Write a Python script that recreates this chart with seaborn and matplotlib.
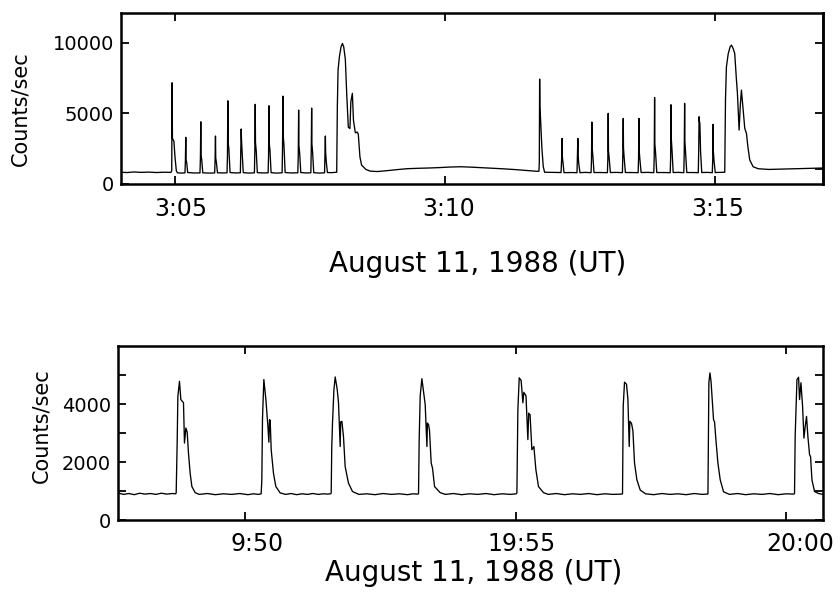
import matplotlib
matplotlib.use("Agg")
import matplotlib.pyplot as plt
from matplotlib.transforms import ScaledTranslation
import pandas as pd
import seaborn as sns

# ---------------- data ----------------
# Top panel: minutes after 03:00 UT, counts/sec
top_time = [
    4.00, 4.12, 4.25, 4.38, 4.52, 4.66, 4.80, 4.93,
    4.945, 4.952, 4.958, 4.985, 5.005, 5.030, 5.050, 5.120, 5.180,
    5.190, 5.198, 5.205, 5.210, 5.222, 5.240, 5.35,
    5.468, 5.476, 5.483, 5.488, 5.500, 5.520, 5.63,
    5.740, 5.748, 5.755, 5.760, 5.772, 5.792, 5.88,
    5.969, 5.977, 5.984, 5.989, 6.002, 6.025, 6.12,
    6.216, 6.224, 6.231, 6.236, 6.250, 6.270, 6.38,
    6.476, 6.484, 6.491, 6.496, 6.510, 6.530, 6.64,
    6.730, 6.738, 6.745, 6.750, 6.763, 6.785, 6.89,
    6.989, 6.997, 7.004, 7.009, 7.022, 7.045, 7.16,
    7.280, 7.288, 7.295, 7.300, 7.313, 7.335, 7.43,
    7.521, 7.529, 7.536, 7.541, 7.554, 7.575, 7.68,
    7.775, 7.783, 7.790, 7.795, 7.808, 7.828, 7.90, 7.985,
    8.000, 8.012, 8.025, 8.050, 8.080, 8.106, 8.130, 8.160, 8.185, 8.215, 8.245,
    8.262, 8.290, 8.310, 8.345, 8.380, 8.400, 8.430, 8.460, 8.540, 8.620, 8.750,
    8.90, 9.10, 9.30, 9.50, 9.70, 9.90, 10.10, 10.30, 10.50, 10.70, 10.90, 11.10,
    11.30, 11.50, 11.70,
    11.745, 11.752, 11.758, 11.763, 11.775, 11.800, 11.825, 11.850, 11.98,
    12.155, 12.165, 12.174, 12.179, 12.190, 12.210, 12.33,
    12.450, 12.458, 12.466, 12.471, 12.483, 12.505, 12.60,
    12.710, 12.718, 12.725, 12.730, 12.743, 12.765, 12.89,
    13.013, 13.021, 13.028, 13.033, 13.046, 13.068, 13.18,
    13.291, 13.299, 13.306, 13.311, 13.324, 13.346, 13.46,
    13.582, 13.590, 13.597, 13.602, 13.615, 13.637, 13.76,
    13.872, 13.880, 13.887, 13.892, 13.905, 13.927, 14.05,
    14.176, 14.184, 14.191, 14.196, 14.209, 14.231, 14.33,
    14.428, 14.436, 14.443, 14.448, 14.461, 14.483, 14.60,
    14.696, 14.704, 14.711, 14.716, 14.725, 14.738, 14.760, 14.86,
    14.955, 14.963, 14.970, 14.975, 14.988, 15.010, 15.10, 15.175,
    15.186, 15.200, 15.217, 15.250, 15.285, 15.310, 15.340, 15.371, 15.400, 15.421,
    15.452, 15.475, 15.495, 15.527, 15.557, 15.588, 15.615, 15.649, 15.712, 15.805,
    16.00, 16.30, 16.60, 17.00,
]
top_counts = [
    800, 780, 820, 790, 810, 780, 800, 790,
    900, 7150, 3200, 3000, 1900, 900, 760, 740, 760,
    760, 1600, 3280, 1650, 1500, 780, 750,
    750, 1800, 4380, 2000, 1700, 760, 740,
    750, 1700, 3370, 1800, 1500, 760, 750,
    760, 2000, 5870, 2900, 2500, 780, 750,
    760, 2600, 3870, 3200, 2100, 770, 740,
    760, 2400, 5620, 2900, 2300, 770, 750,
    760, 2000, 5520, 2900, 2400, 770, 740,
    760, 2600, 6200, 3400, 2800, 780, 750,
    760, 2000, 5210, 2700, 2200, 780, 750,
    760, 2400, 5350, 2800, 2200, 770, 740,
    760, 2000, 3370, 2200, 1500, 780, 770, 790,
    800, 5500, 8050, 9000, 9700, 9940, 9700, 8800, 6400, 4000, 3900,
    5800, 6400, 4500, 3600, 3650, 3500, 1900, 1310, 1000, 880, 850,
    900, 980, 1050, 1080, 1100, 1130, 1170, 1190, 1160, 1120, 1080, 1040,
    990, 930, 870,
    870, 1500, 7410, 5400, 4600, 2500, 1200, 800, 790,
    780, 1700, 3200, 1900, 1500, 770, 780,
    770, 2100, 3200, 2000, 1400, 770, 790,
    770, 1600, 4360, 2600, 2000, 780, 780,
    770, 1700, 4980, 2300, 1800, 780, 790,
    770, 2200, 4620, 2500, 1800, 780, 780,
    770, 1800, 4620, 2300, 1700, 780, 790,
    770, 1900, 6110, 2800, 2200, 780, 780,
    770, 1800, 5590, 3200, 2400, 780, 790,
    770, 2200, 5690, 3000, 2200, 780, 780,
    770, 2400, 4740, 4400, 4300, 2300, 780, 790,
    770, 1600, 4200, 2300, 1600, 780, 790, 800,
    800, 6000, 8280, 9200, 9700, 9820, 9600, 9230, 7500, 6400,
    3790, 5600, 6630, 5210, 3910, 3560, 2600, 1670, 1190, 1050,
    1000, 1030, 1060, 1100,
]

# Bottom panel: minutes after 19:00 UT, counts/sec
bottom_time = [
    47.65, 47.75, 47.85, 47.95, 48.05, 48.15, 48.25, 48.35, 48.45, 48.55, 48.65, 48.715,
    48.725, 48.743, 48.756, 48.786, 48.811, 48.860, 48.878, 48.904, 48.928, 48.952, 48.983, 49.015, 49.076,
    49.15, 49.30, 49.45, 49.60, 49.75, 49.90, 50.05, 50.15, 50.25, 50.295,
    50.308, 50.320, 50.345, 50.383, 50.420, 50.438, 50.450, 50.462, 50.481, 50.523, 50.567, 50.647,
    50.75, 50.85, 50.95, 51.05, 51.15, 51.25, 51.35, 51.45, 51.52, 51.58,
    51.590, 51.600, 51.614, 51.640, 51.664, 51.701, 51.725, 51.756, 51.765, 51.787, 51.817, 51.848, 51.909, 51.983,
    52.10, 52.25, 52.40, 52.55, 52.70, 52.85, 53.00, 53.10, 53.19,
    53.204, 53.216, 53.235, 53.266, 53.303, 53.327, 53.359, 53.368, 53.390, 53.407, 53.438, 53.463, 53.500, 53.604,
    53.70, 53.85, 54.00, 54.15, 54.30, 54.45, 54.60, 54.75, 54.90, 55.01,
    55.022, 55.040, 55.065, 55.100, 55.133, 55.150, 55.190, 55.225, 55.240, 55.265, 55.299, 55.336, 55.373, 55.421, 55.514,
    55.60, 55.75, 55.90, 56.05, 56.20, 56.35, 56.50, 56.65, 56.80, 56.96,
    56.974, 56.987, 57.011, 57.048, 57.074, 57.098, 57.110, 57.140, 57.166, 57.196, 57.240, 57.301,
    57.40, 57.55, 57.70, 57.85, 58.00, 58.15, 58.30, 58.45, 58.54,
    58.553, 58.570, 58.590, 58.610, 58.632, 58.656, 58.675, 58.700, 58.737, 58.780, 58.841,
    58.95, 59.10, 59.25, 59.40, 59.55, 59.70, 59.85, 60.00, 60.14,
    60.153, 60.165, 60.198, 60.228, 60.246, 60.272, 60.302, 60.327, 60.351, 60.375, 60.400, 60.431, 60.450, 60.475, 60.523, 60.597, 60.680,
]
bottom_counts = [
    950, 900, 930, 890, 940, 910, 930, 900, 940, 910, 930, 920,
    950, 2670, 4280, 4800, 4170, 4060, 2670, 3190, 3050, 2330, 1630, 1170, 960,
    900, 930, 890, 920, 900, 930, 890, 920, 900, 920,
    1400, 3500, 4860, 4170, 3250, 2700, 3480, 3450, 2440, 1630, 1170, 950,
    900, 930, 890, 920, 900, 930, 900, 920, 910, 920,
    950, 2500, 3360, 4500, 4950, 4520, 4060, 2550, 3400, 3420, 2900, 1860, 1290, 1000,
    900, 920, 890, 930, 900, 920, 890, 920, 910,
    920, 2790, 4300, 4890, 4350, 4000, 2550, 3360, 3300, 3100, 1980, 1800, 1170, 960,
    900, 930, 890, 920, 900, 930, 890, 920, 900, 920,
    950, 3820, 4920, 4830, 4060, 4420, 4300, 2790, 3700, 3650, 2440, 2550, 1750, 1170, 960,
    900, 930, 890, 920, 900, 930, 890, 920, 900, 910,
    920, 3940, 4770, 4700, 4170, 2550, 3420, 3350, 3100, 1980, 1400, 1050,
    920, 890, 930, 900, 920, 890, 930, 900, 910,
    920, 4750, 5090, 4800, 4170, 3480, 3400, 2790, 1980, 1400, 990,
    900, 930, 890, 920, 900, 930, 890, 920, 910,
    930, 2900, 4860, 4940, 4170, 4750, 3940, 2840, 3250, 3590, 2900, 2270, 2200, 1400, 1000, 930, 900,
]

top_xticks = [5, 10, 15]
top_xticklabels = ["3:05", "3:10", "3:15"]
top_yticks = [0, 5000, 10000]
top_right_yticks = [1000, 5000, 10000]
bottom_xticks = [50, 55, 60]
bottom_xticklabels = ["9:50", "19:55", "20:00"]
bottom_yticks = [0, 1000, 2000, 3000, 4000, 5000]
bottom_yticklabels = ["0", "", "2000", "", "4000", ""]
xlabel_text = "August 11, 1988 (UT)"
ylabel_text = "Counts/sec"

# ---------------- style ----------------
sns.set_theme(style="ticks", rc={
    "axes.edgecolor": "black", "xtick.color": "black", "ytick.color": "black",
    "text.color": "black", "axes.labelcolor": "black",
})
plt.rcParams["font.family"] = ["DejaVu Sans"]

fig = plt.figure(figsize=(8.4, 5.92), dpi=100)
ax1 = fig.add_axes([0.1437, 0.690, 0.8357, 0.288])
ax2 = fig.add_axes([0.1405, 0.1208, 0.8393, 0.2939])

df_top = pd.DataFrame({"minute": top_time, "counts": top_counts})
df_bot = pd.DataFrame({"minute": bottom_time, "counts": bottom_counts})

sns.lineplot(data=df_top, x="minute", y="counts", ax=ax1, color="black",
             lw=0.95, estimator=None, sort=False)
sns.lineplot(data=df_bot, x="minute", y="counts", ax=ax2, color="black",
             lw=0.95, estimator=None, sort=False)


def frame(ax):
    for sp in ax.spines.values():
        sp.set_visible(True)
        sp.set_linewidth(1.8)
        sp.set_color("black")


# top panel
ax1.set_xlim(4.0, 17.0)
ax1.set_ylim(0, 12100)
ax1.set_xticks(top_xticks)
ax1.set_xticklabels(top_xticklabels)
ax1.set_yticks(top_yticks)
ax1.set_yticklabels([str(v) for v in top_yticks])
ax1.tick_params(axis="x", direction="in", length=6, width=1.3, top=True,
                bottom=True, labelsize=17, pad=10)
ax1.tick_params(axis="y", direction="in", length=6, width=1.3, left=True,
                right=False, labelsize=14, pad=5)
sec1 = ax1.secondary_yaxis("right")
sec1.set_yticks(top_right_yticks)
sec1.set_yticklabels([])
sec1.tick_params(direction="in", length=6, width=1.3)
sec1.spines["right"].set_linewidth(1.8)
frame(ax1)
ax1.set_xlabel(xlabel_text, fontsize=20)
ax1.xaxis.set_label_coords(0.508, -0.39)
ax1.set_ylabel(ylabel_text, fontsize=15)
ax1.yaxis.set_label_coords(-0.128, 0.437)

# bottom panel
ax2.set_xlim(47.65, 60.68)
ax2.set_ylim(0, 6000)
ax2.set_xticks(bottom_xticks)
ax2.set_xticklabels(bottom_xticklabels)
ax2.set_yticks(bottom_yticks)
ax2.set_yticklabels(bottom_yticklabels)
ax2.tick_params(axis="x", direction="in", length=6, width=1.3, top=True,
                bottom=True, labelsize=17, pad=8)
ax2.tick_params(axis="y", direction="in", length=6, width=1.3, left=True,
                right=True, labelright=False, labelsize=14, pad=5)
frame(ax2)
ax2.set_xlabel(xlabel_text, fontsize=20)
ax2.xaxis.set_label_coords(0.505, -0.22)
ax2.set_ylabel(ylabel_text, fontsize=15)
ax2.yaxis.set_label_coords(-0.094, 0.543)

# small horizontal shifts of the time labels, as printed
for lab, dx in zip(ax1.get_xticklabels(), [6, 4, 3]):
    lab.set_transform(lab.get_transform() + ScaledTranslation(dx / 100, 0, fig.dpi_scale_trans))
for lab, dx in zip(ax2.get_xticklabels(), [12, 6, 14]):
    lab.set_transform(lab.get_transform() + ScaledTranslation(dx / 100, 0, fig.dpi_scale_trans))

fig.savefig("out.png", dpi=100)
